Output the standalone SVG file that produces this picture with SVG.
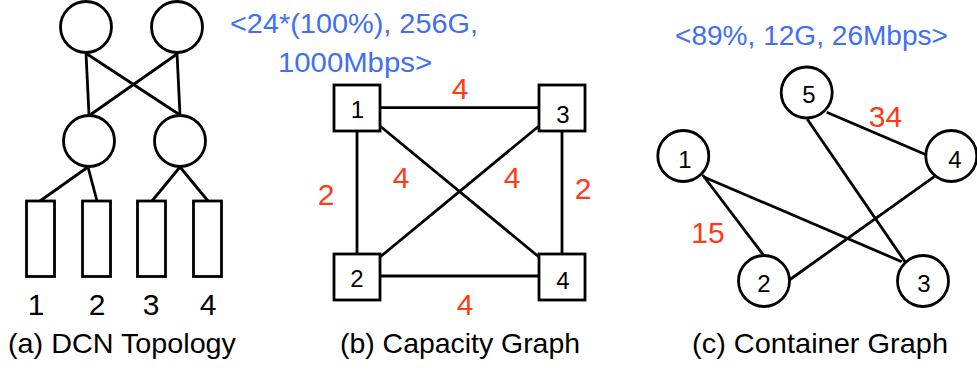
<svg xmlns="http://www.w3.org/2000/svg" width="977" height="373" viewBox="0 0 977 373">
<style>
.s{fill:#fff;stroke:#000;stroke-width:2.8}
.e{stroke:#000;stroke-width:2.8;fill:none}
text{font-family:"Liberation Sans",Arial,sans-serif}
.n{font-size:24px;fill:#000;text-anchor:middle}
.d{font-size:30px;fill:#000;text-anchor:middle}
.r{font-size:30px;fill:#FF3A17;text-anchor:middle}
.b{font-size:27px;fill:#3F6FF5}
.c{font-size:28px;fill:#000}
</style>
<rect width="977" height="373" fill="#fff"/>
<g id="connectors">
<line class="e" x1="86" y1="53" x2="89" y2="115"/>
<line class="e" x1="87" y1="54" x2="180" y2="115"/>
<line class="e" x1="177" y1="54" x2="90" y2="115"/>
<line class="e" x1="177" y1="53" x2="180" y2="115"/>
<line class="e" x1="88" y1="167" x2="40" y2="201"/>
<line class="e" x1="88" y1="167" x2="97" y2="201"/>
<line class="e" x1="180" y1="167" x2="152" y2="201"/>
<line class="e" x1="180" y1="167" x2="208" y2="201"/>
<line class="e" x1="380" y1="107.7" x2="539" y2="107.7"/>
<line class="e" x1="380" y1="276" x2="539" y2="276"/>
<line class="e" x1="357" y1="131" x2="357" y2="254"/>
<line class="e" x1="562" y1="131" x2="562" y2="254"/>
<line class="e" x1="380" y1="126" x2="539" y2="257"/>
<line class="e" x1="539" y1="126" x2="380" y2="257"/>
<line class="e" x1="826.7" y1="112.3" x2="926.7" y2="155"/>
<line class="e" x1="807.3" y1="119.3" x2="905" y2="261.7"/>
<line class="e" x1="702.7" y1="175" x2="763.3" y2="255"/>
<line class="e" x1="703.3" y1="176.7" x2="901.7" y2="261.7"/>
<line class="e" x1="934.3" y1="176.7" x2="789.3" y2="280"/>
</g>
<g id="a-core1"><circle class="s" cx="86" cy="27" r="25.5"/></g>
<g id="a-core2"><circle class="s" cx="177" cy="27" r="25.5"/></g>
<g id="a-agg1"><circle class="s" cx="89" cy="141" r="25.5"/></g>
<g id="a-agg2"><circle class="s" cx="180" cy="141" r="25.5"/></g>
<g id="a-host1"><rect class="s" x="26.5" y="201" width="28" height="75.5"/><text class="d" x="36" y="315">1</text></g>
<g id="a-host2"><rect class="s" x="82.5" y="201" width="28" height="75.5"/><text class="d" x="97" y="315">2</text></g>
<g id="a-host3"><rect class="s" x="137.5" y="201" width="28" height="75.5"/><text class="d" x="151" y="315">3</text></g>
<g id="a-host4"><rect class="s" x="193.5" y="201" width="28" height="75.5"/><text class="d" x="208" y="315">4</text></g>
<text class="c" x="8" y="353" textLength="228" lengthAdjust="spacingAndGlyphs">(a) DCN Topology</text>

<text class="b" x="230" y="33" textLength="248" lengthAdjust="spacingAndGlyphs">&lt;24*(100%), 256G,</text>
<text class="b" x="278" y="72" textLength="154" lengthAdjust="spacingAndGlyphs">1000Mbps&gt;</text>
<g id="b-n1"><rect class="s" x="334" y="85" width="46" height="46"/><text class="n" x="357.5" y="118">1</text></g>
<g id="b-n3"><rect class="s" x="539" y="85" width="46" height="46"/><text class="n" x="563" y="122.5">3</text></g>
<g id="b-n2"><rect class="s" x="334" y="254" width="46" height="46"/><text class="n" x="357" y="287">2</text></g>
<g id="b-n4"><rect class="s" x="539" y="254" width="46" height="46"/><text class="n" x="563" y="289">4</text></g>
<text class="r" x="460" y="99">4</text>
<text class="r" x="465" y="315">4</text>
<text class="r" x="326" y="205">2</text>
<text class="r" x="401" y="188">4</text>
<text class="r" x="512" y="188">4</text>
<text class="r" x="583" y="199">2</text>
<text class="c" x="340" y="353" textLength="240" lengthAdjust="spacingAndGlyphs">(b) Capacity Graph</text>

<text class="b" x="675" y="45" textLength="273" lengthAdjust="spacingAndGlyphs">&lt;89%, 12G, 26Mbps&gt;</text>
<g id="c-n5"><circle class="s" cx="806.7" cy="92.5" r="25.5"/><text class="n" x="809" y="103">5</text></g>
<g id="c-n1"><circle class="s" cx="683.3" cy="156" r="25.5"/><text class="n" x="685" y="168">1</text></g>
<g id="c-n4"><circle class="s" cx="951.3" cy="156" r="25.5"/><text class="n" x="955" y="168">4</text></g>
<g id="c-n2"><circle class="s" cx="764" cy="281" r="25.5"/><text class="n" x="764" y="292">2</text></g>
<g id="c-n3"><circle class="s" cx="923" cy="281" r="25.5"/><text class="n" x="924" y="292">3</text></g>
<text class="r" x="885.5" y="127">34</text>
<text class="r" x="708" y="243">15</text>
<text class="c" x="692" y="353" textLength="256" lengthAdjust="spacingAndGlyphs">(c) Container Graph</text>
</svg>
